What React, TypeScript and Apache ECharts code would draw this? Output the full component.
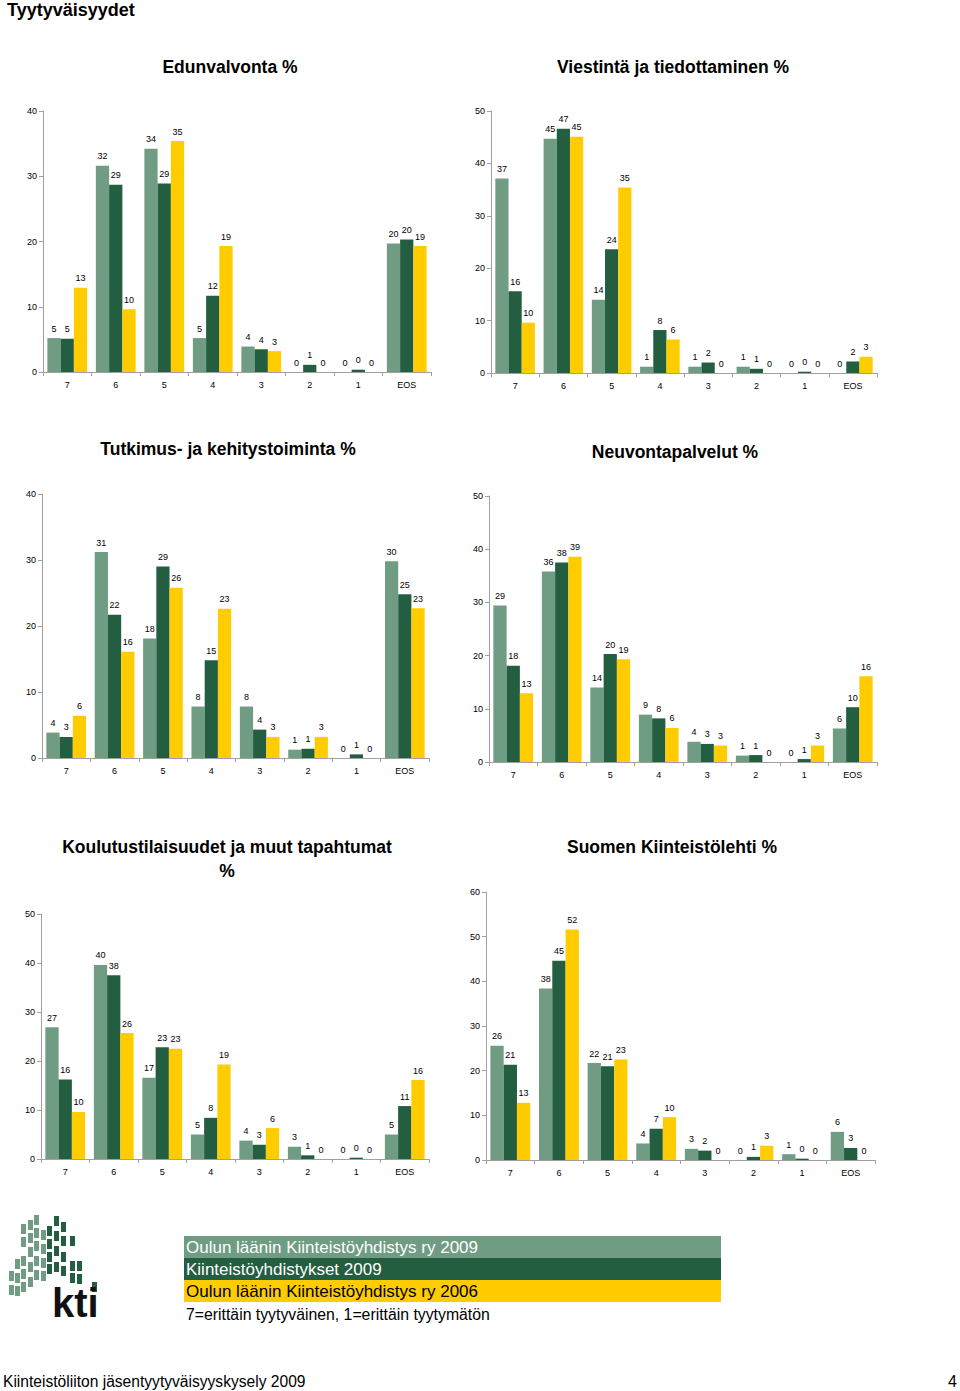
import React, { useEffect, useRef } from "react";
import * as echarts from "echarts";

const categories = ["7", "6", "5", "4", "3", "2", "1", "EOS"];
const seriesNames = [
  "Oulun läänin Kiinteistöyhdistys ry 2009",
  "Kiinteistöyhdistykset 2009",
  "Oulun läänin Kiinteistöyhdistys ry 2006",
];
const seriesColors = ["#6f9c82", "#245e40", "#ffcc00"];

const titles = [
  "Edunvalvonta %",
  "Viestintä ja tiedottaminen %",
  "Tutkimus- ja kehitystoiminta %",
  "Neuvontapalvelut %",
  "Koulutustilaisuudet ja muut tapahtumat\n%",
  "Suomen Kiinteistölehti %",
];
const yMax = [40, 50, 40, 50, 50, 60];

// [Oulu 2009, Kiinteistöyhdistykset 2009, Oulu 2006]
const edunvalvonta = [
  [5.2, 31.6, 34.2, 5.2, 3.9, 0, 0, 19.7],
  [5.1, 28.7, 28.9, 11.7, 3.5, 1.1, 0.35, 20.3],
  [12.9, 9.6, 35.4, 19.3, 3.2, 0, 0, 19.3],
];
const viestinta = [
  [37.1, 44.7, 14.0, 1.2, 1.2, 1.2, 0, 0],
  [15.6, 46.6, 23.6, 8.2, 2.0, 0.8, 0.25, 2.2],
  [9.6, 45.1, 35.4, 6.4, 0, 0, 0, 3.1],
];
const tutkimus = [
  [3.85, 31.2, 18.1, 7.8, 7.8, 1.26, 0, 29.8],
  [3.2, 21.7, 29.0, 14.8, 4.3, 1.4, 0.55, 24.8],
  [6.4, 16.1, 25.8, 22.6, 3.2, 3.2, 0, 22.7],
];
const neuvonta = [
  [29.4, 35.8, 14.0, 8.9, 3.8, 1.2, 0, 6.3],
  [18.1, 37.5, 20.3, 8.2, 3.4, 1.3, 0.55, 10.3],
  [12.9, 38.6, 19.3, 6.4, 3.1, 0, 3.1, 16.1],
];
const koulutus = [
  [26.9, 39.6, 16.6, 5.0, 3.75, 2.5, 0, 5.0],
  [16.2, 37.5, 22.8, 8.4, 2.9, 0.75, 0.27, 10.8],
  [9.6, 25.7, 22.5, 19.3, 6.3, 0, 0, 16.1],
];
const lehti = [
  [25.6, 38.4, 21.7, 3.7, 2.5, 0, 1.3, 6.3],
  [21.3, 44.6, 21.0, 7.0, 2.1, 0.7, 0.3, 2.7],
  [12.8, 51.6, 22.5, 9.6, 0, 3.2, 0, 0],
];
const chartData = [edunvalvonta, viestinta, tutkimus, neuvonta, koulutus, lehti];

// layout: grid boxes and title positions
const grids = [
  { left: 43, top: 111, width: 388, height: 261 },
  { left: 491, top: 111, width: 386, height: 262 },
  { left: 42, top: 494, width: 387, height: 264 },
  { left: 489, top: 496, width: 388, height: 266 },
  { left: 41, top: 914, width: 388, height: 245 },
  { left: 486, top: 892, width: 389, height: 268 },
];
const titlePos = [
  [230, 67],
  [673, 67],
  [228, 449],
  [675, 452],
  [227, 859],
  [672, 847],
];

const FONT = "Liberation Sans, Arial, sans-serif";

const logoLight = [
  [21, 1224], [21, 1237], [21, 1256], [21, 1269], [21, 1282],
  [28, 1220], [28, 1233], [28, 1247], [28, 1262], [28, 1277],
  [34, 1215], [34, 1228], [34, 1241], [34, 1256], [34, 1270],
  [41, 1230], [41, 1244], [41, 1258], [41, 1271],
  [15, 1259], [15, 1273], [15, 1286],
  [9, 1271], [9, 1285],
];
const logoDark = [
  [47, 1226], [47, 1239], [47, 1252], [47, 1264],
  [54, 1216], [54, 1231], [54, 1246], [54, 1262],
  [61, 1222], [61, 1236], [61, 1252], [61, 1266],
  [70, 1236], [70, 1261], [70, 1273],
  [77, 1261], [77, 1274],
  [92, 1282],
];

export default function App() {
  const ref = useRef<HTMLDivElement>(null);
  useEffect(() => {
    document.body.style.margin = "0";
    const chart = echarts.init(ref.current!, null, { renderer: "svg" });

    const xAxis: any[] = [];
    const yAxis: any[] = [];
    const series: any[] = [];
    grids.forEach((g, i) => {
      xAxis.push({
        type: "category",
        gridIndex: i,
        data: categories,
        axisLine: { lineStyle: { color: "#a0a0a0", width: 1 } },
        axisTick: { show: true, length: 4, lineStyle: { color: "#a0a0a0" } },
        axisLabel: { fontSize: 9, color: "#000", margin: 8, fontFamily: FONT },
      });
      yAxis.push({
        type: "value",
        gridIndex: i,
        min: 0,
        max: yMax[i],
        interval: 10,
        axisLine: { show: true, lineStyle: { color: "#a0a0a0", width: 1 } },
        axisTick: { show: true, length: 4, lineStyle: { color: "#a0a0a0" } },
        splitLine: { show: false },
        axisLabel: { fontSize: 9, color: "#000", margin: 6, fontFamily: FONT },
      });
      chartData[i].forEach((vals, s) => {
        series.push({
          type: "bar",
          name: seriesNames[s],
          xAxisIndex: i,
          yAxisIndex: i,
          data: vals,
          barGap: "0%",
          barCategoryGap: "18%",
          itemStyle: { color: seriesColors[s] },
          label: {
            show: true,
            position: "top",
            distance: 5,
            fontSize: 9,
            color: "#000",
            fontFamily: FONT,
            formatter: (p: any) => String(Math.round(p.value)),
          },
        });
      });
    });

    const graphic: any[] = [];
    graphic.push({
      type: "text",
      x: 7,
      y: 1,
      style: {
        text: "Tyytyväisyydet",
        fontSize: 18,
        fontWeight: "bold",
        fontFamily: FONT,
        fill: "#000",
        textVerticalAlign: "top",
      },
    });
    titles.forEach((t, i) => {
      graphic.push({
        type: "text",
        x: titlePos[i][0],
        y: titlePos[i][1],
        style: {
          text: t,
          fontSize: 17.5,
          fontWeight: "bold",
          fontFamily: FONT,
          fill: "#000",
          textAlign: "center",
          textVerticalAlign: "middle",
          lineHeight: 24,
        },
      });
    });
    // legend boxes
    seriesNames.forEach((n, i) => {
      graphic.push({
        type: "rect",
        shape: { x: 184, y: 1236 + i * 22, width: 537, height: 22 },
        style: { fill: seriesColors[i] },
      });
      graphic.push({
        type: "text",
        x: 186,
        y: 1247 + i * 22,
        style: {
          text: n,
          fontSize: 17,
          fontFamily: FONT,
          fill: i < 2 ? "#fff" : "#000",
          textVerticalAlign: "middle",
        },
      });
    });
    graphic.push({
      type: "text",
      x: 186,
      y: 1314,
      style: {
        text: "7=erittäin tyytyväinen, 1=erittäin tyytymätön",
        fontSize: 15.8,
        fontFamily: FONT,
        fill: "#000",
        textVerticalAlign: "middle",
      },
    });
    // logo
    logoLight.forEach(([x, y]) => {
      graphic.push({ type: "rect", shape: { x, y, width: 5, height: 10 }, style: { fill: "#6f9c82" } });
    });
    logoDark.forEach(([x, y]) => {
      graphic.push({ type: "rect", shape: { x, y, width: 5, height: 10 }, style: { fill: "#245e40" } });
    });
    graphic.push({
      type: "text",
      x: 52,
      y: 1303,
      style: {
        text: "kti",
        fontSize: 40,
        fontWeight: "bold",
        fontFamily: FONT,
        fill: "#111",
        textVerticalAlign: "middle",
      },
    });
    // footer
    graphic.push({
      type: "text",
      x: 3,
      y: 1381,
      style: {
        text: "Kiinteistöliiton jäsentyytyväisyyskysely 2009",
        fontSize: 15.6,
        fontFamily: FONT,
        fill: "#000",
        textVerticalAlign: "middle",
      },
    });
    graphic.push({
      type: "text",
      x: 957,
      y: 1381,
      style: {
        text: "4",
        fontSize: 16,
        fontFamily: FONT,
        fill: "#000",
        textAlign: "right",
        textVerticalAlign: "middle",
      },
    });

    chart.setOption({
      animation: false,
      backgroundColor: "#fff",
      textStyle: { fontFamily: FONT },
      grid: grids.map((g) => ({ ...g })),
      xAxis,
      yAxis,
      series,
      graphic,
    });
    return () => chart.dispose();
  }, []);
  return <div ref={ref} style={{ width: 960, height: 1391 }} />;
}
